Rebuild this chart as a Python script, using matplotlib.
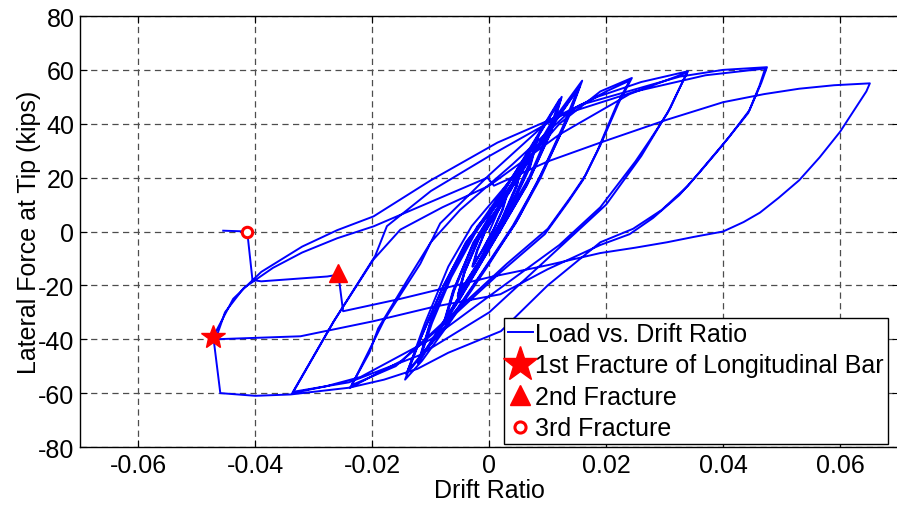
import numpy as np
import matplotlib.pyplot as plt

plt.rcParams['font.family'] = ['Liberation Sans', 'DejaVu Sans']
plt.rcParams['axes.unicode_minus'] = False

# drift ratio / lateral force (kips)
elastic_drift = [0.0, 0.0016, 0.003, 0.0022, 0.0008, -0.0012, -0.0028, -0.002, -0.0007,
                 0.0016, 0.0031, 0.0023, 0.0008, -0.0012, -0.0029, -0.0021, -0.0007,
                 0.0025, 0.0056, 0.0046, 0.0022, -0.0015, -0.0052, -0.0042, -0.0018,
                 0.0025, 0.0057, 0.0047, 0.0022, -0.0016, -0.0053, -0.0043, -0.0018,
                 0.0027, 0.0058, 0.0047, 0.0021, -0.0017, -0.0054, -0.0042, -0.0017,
                 0.0035, 0.0082, 0.0068, 0.0035, -0.0018, -0.0075, -0.006, -0.0028,
                 0.0036, 0.0083, 0.0069, 0.0034, -0.002, -0.0076, -0.0061, -0.0027,
                 0.0038, 0.0085, 0.0070, 0.0033, -0.0022, -0.0078, -0.0062, -0.0026,
                 0.005, 0.012, 0.0104, 0.0068, 0.002, -0.0045, -0.0118, -0.0098, -0.0065, -0.0025,
                 0.0052, 0.0122, 0.0105, 0.0066, 0.0018, -0.0048, -0.012, -0.0099, -0.0063, -0.0022,
                 0.0054, 0.0124, 0.0106, 0.0064, 0.0015, -0.0050, -0.0122, -0.0100, -0.0061, -0.0020]
elastic_force = [0, 8, 14, 8, 1, -7, -13, -7, 0,
                 8, 14, 8, 1, -7, -13, -7, 0,
                 12, 25, 17, 5, -10, -23, -15, -3,
                 11, 25, 17, 4, -11, -23, -15, -2,
                 12, 26, 17, 4, -11, -24, -15, -2,
                 16, 35, 25, 9, -12, -33, -22, -5,
                 15, 35, 24, 8, -13, -33, -22, -4,
                 16, 36, 24, 7, -14, -34, -22, -4,
                 24, 49, 38, 20, 2, -22, -47, -34, -17, -1,
                 24, 49, 37, 18, 0, -24, -48, -33, -15, 1,
                 25, 50, 37, 17, -1, -25, -49, -33, -14, 2]

cyc016_drift = [0.0045, 0.0105, 0.0159, 0.0135, 0.0095, 0.005, 0.0, -0.0065, -0.0115, -0.0144,
                -0.0118, -0.008, -0.004, 0.002, 0.009, 0.0155, 0.013, 0.0088, 0.0045, -0.0008,
                -0.007, -0.0142, -0.0116, -0.0078, -0.0036, 0.0025, 0.0095, 0.0152,
                0.0126, 0.0084, 0.004, -0.0012, -0.0075, -0.0140]
cyc016_force = [18, 40, 56, 42, 24, 5, -12, -33, -48, -55,
                -40, -21, -4, 12, 34, 54, 40, 20, 3, -14,
                -34, -53, -39, -20, -3, 13, 35, 53,
                39, 19, 2, -15, -35, -52]

cyc024_drift = [-0.011, -0.007, -0.003, 0.004, 0.012, 0.019, 0.0244,
                0.0222, 0.019, 0.0165, 0.014, 0.01, 0.003, -0.005, -0.015, -0.0238,
                -0.0205, -0.019, -0.014, -0.01, -0.005, 0.004, 0.014, 0.02, 0.024,
                0.0218, 0.0185, 0.016, 0.0135, 0.0095, 0.002, -0.006, -0.016, -0.0235]
cyc024_force = [-34, -13, 2, 20, 40, 52, 57,
                48, 32, 21, 13, 1, -12, -28, -48, -58,
                -45, -36, -18, -4, 8, 25, 45, 52, 56,
                47, 30, 19, 11, -1, -15, -31, -50, -57]

cyc034_drift = [-0.018, -0.0118, -0.0084, 0.0, 0.0104, 0.0185, 0.026, 0.034,
                0.0325, 0.0305, 0.0275, 0.025, 0.019, 0.012, 0.0, -0.01, -0.022, -0.028, -0.0337,
                -0.0267, -0.0198, -0.0152, -0.008, 0.0, 0.012, 0.024, 0.0338,
                0.0325, 0.031, 0.0285, 0.026, 0.02, 0.013, 0.0, -0.012, -0.024, -0.0335]
cyc034_force = [-33, -12, 3, 21, 41.5, 50, 55.5, 59.5,
                53, 44, 34, 26, 9, -5, -24, -40, -54, -57.5, -60,
                -33.7, -10.4, 0.7, 9, 17, 36, 51, 59,
                53, 46, 37, 28, 10, -4, -30, -46, -56, -59.5]

cyc047_drift = [-0.0265, -0.0195, -0.0175, -0.01, 0.0, 0.0156, 0.0326, 0.04, 0.0475,
                0.0465, 0.0445, 0.041, 0.0375, 0.034, 0.0295, 0.0246, 0.019, 0.01, 0.002,
                -0.007, -0.0123, -0.018, -0.024, -0.034, -0.04, -0.046, -0.0472,
                -0.0455, -0.0438, -0.039, -0.032, -0.026, -0.0198, -0.01, 0.0014, 0.012,
                0.025, 0.037, 0.0472,
                0.0462, 0.0443, 0.0395, 0.036, 0.0325, 0.028, 0.024, 0.019, 0.01, 0.0019,
                -0.0096, -0.0198, -0.0323, -0.0468]
cyc047_force = [-33, -9, 2, 15, 28, 47, 57.5, 60, 61,
                55, 45, 35, 26, 17, 8, 1, -4, -20, -37,
                -45, -51, -55, -58, -60.5, -61, -60, -39,
                -32, -25, -15, -5.6, 0.5, 5.6, 19, 33, 43,
                52, 58, 60.5,
                54, 44, 31, 22, 13.5, 5, -1, -5, -14, -23.3,
                -28, -33.3, -38.9, -40]

cyc065_drift = [-0.0452, -0.042, -0.037, -0.032, -0.026, -0.0198, -0.01, -0.0003, 0.0008,
                0.01, 0.019, 0.0304, 0.04, 0.047, 0.053, 0.059, 0.0651,
                0.0645, 0.063, 0.06, 0.0565, 0.053, 0.0495, 0.0463, 0.0435, 0.04,
                0.035, 0.0304, 0.025, 0.019, 0.01, 0.0, -0.0152, -0.025,
                -0.0258, -0.0277, -0.039, -0.0405, -0.0414, -0.0455]
cyc065_force = [-30, -21, -13.5, -7.8, -2.5, 1.9, 11, 20, 17,
                26, 33, 41.5, 48, 51, 53, 54.3, 55,
                52, 47, 37, 27.5, 19, 12.5, 7, 3.5, 0,
                -2, -4, -6, -8, -12.5, -17, -25, -29.6,
                -16, -16.7, -18.5, -18, 0, 0.3]

frac1_drift, frac1_force = [-0.0472], [-39]
frac2_drift, frac2_force = [-0.0258], [-15.5]
frac3_drift, frac3_force = [-0.0414], [0]

xticks = [-0.06, -0.04, -0.02, 0, 0.02, 0.04, 0.06]
xtick_labels = ['-0.06', '-0.04', '-0.02', '0', '0.02', '0.04', '0.06']
yticks = [-80, -60, -40, -20, 0, 20, 40, 60, 80]

drift = np.concatenate([elastic_drift, cyc016_drift, cyc024_drift, cyc034_drift,
                        cyc047_drift, cyc065_drift])
force = np.concatenate([elastic_force, cyc016_force, cyc024_force, cyc034_force,
                        cyc047_force, cyc065_force])

fig = plt.figure(figsize=(8.97, 5.06), dpi=100)
ax = fig.add_axes([80 / 897, 58 / 506, 818.5 / 897, 431 / 506])

ax.plot(drift, force, color='#0000ff', lw=1.4, label='Load vs. Drift Ratio', zorder=3)
ax.plot(frac1_drift, frac1_force, ls='none', marker='*', ms=18, color='red',
        label='1st Fracture of Longitudinal Bar', zorder=4)
ax.plot(frac2_drift, frac2_force, ls='none', marker='^', ms=13, color='red',
        label='2nd Fracture', zorder=4)
ax.plot(frac3_drift, frac3_force, ls='none', marker='o', ms=7.5, mfc='white', mec='red',
        mew=2.2, label='3rd Fracture', zorder=4)

ax.set_xlim(-0.07, 0.07)
ax.set_ylim(-80, 80)
ax.set_xticks(xticks)
ax.set_xticklabels(xtick_labels)
ax.set_yticks(yticks)
ax.grid(True, color='0.3', ls=(0, (5, 3.5)), lw=0.9)
ax.tick_params(direction='in', top=True, right=True, length=5, labelsize=18, pad=4)
for s in ax.spines.values():
    s.set_linewidth(1.0)

ax.set_xlabel('Drift Ratio', fontsize=18, labelpad=1)
ax.set_ylabel('Lateral Force at Tip (kips)', fontsize=18, labelpad=-2)

leg = ax.legend(loc='upper left', bbox_to_anchor=(504 / 897, 1 - 319 / 506),
                bbox_transform=fig.transFigure, fontsize=18, frameon=True, fancybox=False,
                edgecolor='black', framealpha=1, borderpad=0.15, labelspacing=0.3,
                handlelength=1.0, handletextpad=0.1, borderaxespad=0)
leg.get_frame().set_linewidth(1.0)
hs = leg.legend_handles
hs[1].set_markersize(26)
hs[2].set_markersize(15)
hs[3].set_markersize(8)

fig.savefig('out.png', dpi=100)
